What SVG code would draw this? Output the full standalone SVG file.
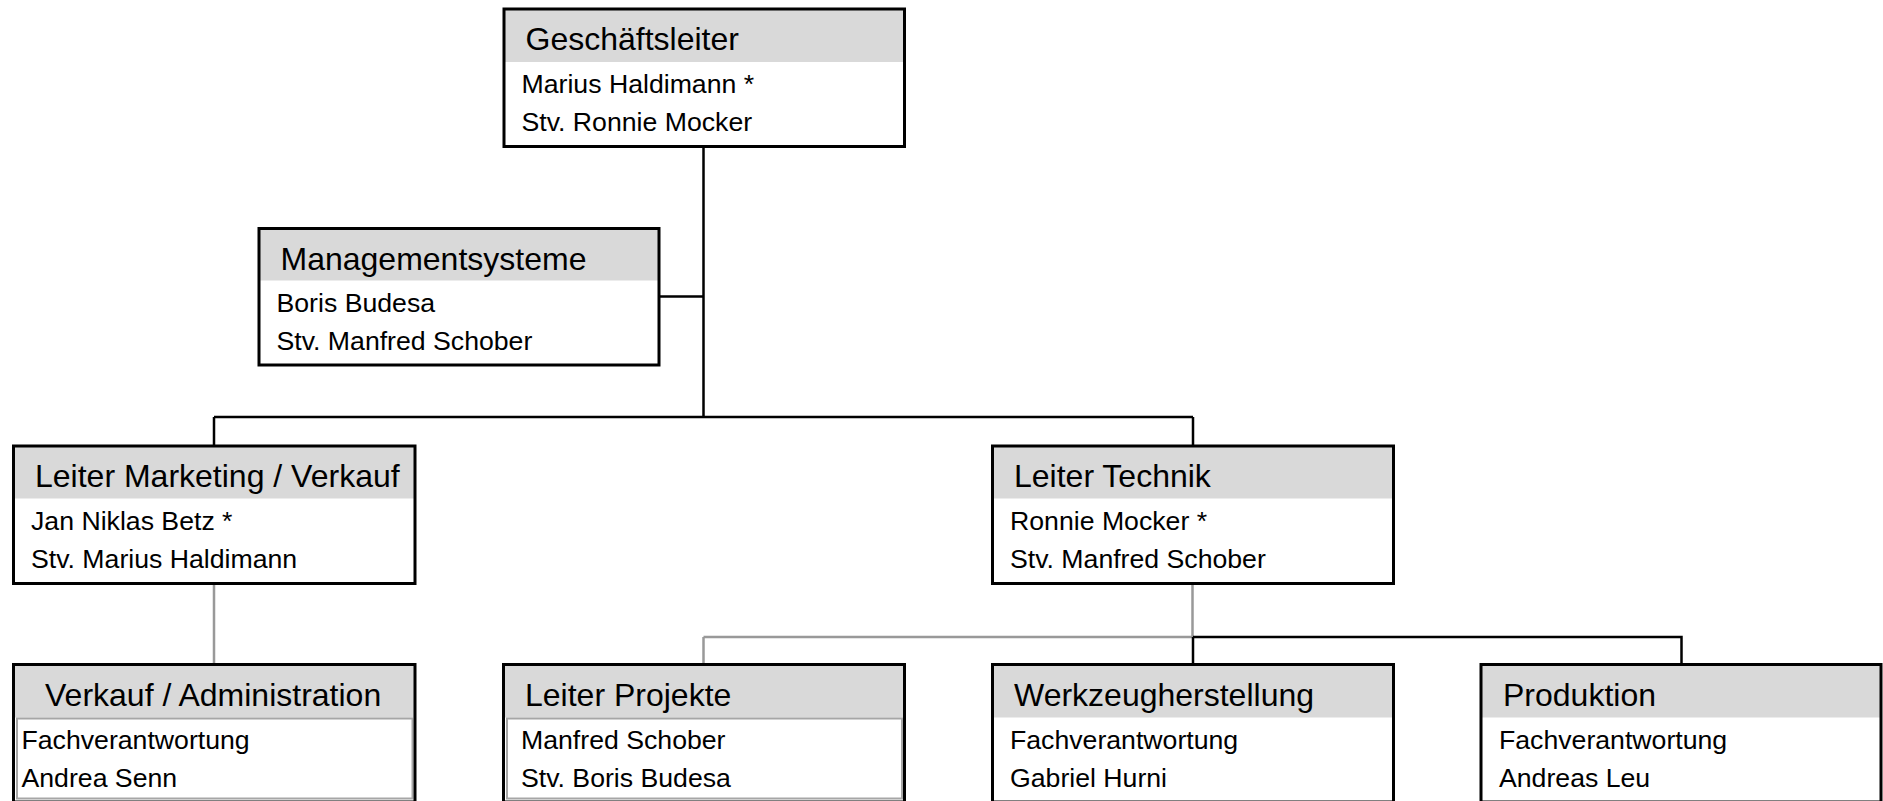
<svg xmlns="http://www.w3.org/2000/svg" width="1883" height="801" viewBox="0 0 1883 801">
<style>
.bg{fill:#ffffff}
.hd{fill:#d9d9d9}
.bd{fill:none;stroke:#000000;stroke-width:3}
.inner{fill:none;stroke:#a6a6a6;stroke-width:2}
.t1{font-family:"Liberation Sans",Arial,sans-serif;font-size:32px;fill:#000000}
.t2{font-family:"Liberation Sans",Arial,sans-serif;font-size:26.67px;fill:#000000}
.cb{fill:none;stroke:#000000;stroke-width:2.5}
.cg{fill:none;stroke:#999999;stroke-width:2.5}
</style>
<rect x="0" y="0" width="1883" height="801" fill="#ffffff"/>
<g id="connectors">
  <path class="cb" d="M703.5 146 V417 M659 296.5 H703.5 M214 417 H1193 M214 417 V446 M1193 417 V446"/>
  <path class="cg" d="M214 583.5 V664.5 M1192.5 583.5 V637 M703.5 637 H1192.5 M703.5 637 V664.5"/>
  <path class="cb" d="M1193 637 V664.5 M1193 637 H1681.5 V664.5"/>
</g>
<g id="n-geschaeftsleiter">
  <rect class="bg" x="504" y="9" width="400.5" height="137.5"/>
  <rect class="hd" x="504" y="9" width="400.5" height="53"/>
  <rect class="bd" x="504" y="9" width="400.5" height="137.5"/>
  <text class="t1" x="525.5" y="50">Geschäftsleiter</text>
  <text class="t2" x="521.5" y="93">Marius Haldimann *</text>
  <text class="t2" x="521.5" y="131">Stv. Ronnie Mocker</text>
</g>
<g id="n-management">
  <rect class="bg" x="259" y="228.5" width="400" height="136.5"/>
  <rect class="hd" x="259" y="228.5" width="400" height="52"/>
  <rect class="bd" x="259" y="228.5" width="400" height="136.5"/>
  <text class="t1" x="280.5" y="269.5">Managementsysteme</text>
  <text class="t2" x="276.5" y="311.5">Boris Budesa</text>
  <text class="t2" x="276.5" y="349.5">Stv. Manfred Schober</text>
</g>
<g id="n-marketing">
  <rect class="bg" x="13.5" y="446" width="401.5" height="137.5"/>
  <rect class="hd" x="13.5" y="446" width="401.5" height="52.5"/>
  <rect class="bd" x="13.5" y="446" width="401.5" height="137.5"/>
  <text class="t1" x="35" y="487">Leiter Marketing / Verkauf</text>
  <text class="t2" x="31" y="530">Jan Niklas Betz *</text>
  <text class="t2" x="31" y="568">Stv. Marius Haldimann</text>
</g>
<g id="n-technik">
  <rect class="bg" x="992.5" y="446" width="401" height="137.5"/>
  <rect class="hd" x="992.5" y="446" width="401" height="52.5"/>
  <rect class="bd" x="992.5" y="446" width="401" height="137.5"/>
  <text class="t1" x="1014" y="487">Leiter Technik</text>
  <text class="t2" x="1010" y="530">Ronnie Mocker *</text>
  <text class="t2" x="1010" y="568">Stv. Manfred Schober</text>
</g>
<g id="n-verkauf">
  <rect class="bg" x="13.5" y="664.5" width="401.5" height="137.5"/>
  <rect class="hd" x="13.5" y="664.5" width="401.5" height="53"/>
  <rect class="inner" x="17" y="718.5" width="395.5" height="80"/>
  <rect class="bd" x="13.5" y="664.5" width="401.5" height="137.5"/>
  <text class="t1" x="45" y="705.5">Verkauf / Administration</text>
  <text class="t2" x="21.5" y="749">Fachverantwortung</text>
  <text class="t2" x="21.5" y="787">Andrea Senn</text>
</g>
<g id="n-projekte">
  <rect class="bg" x="503.5" y="664.5" width="401" height="137.5"/>
  <rect class="hd" x="503.5" y="664.5" width="401" height="53"/>
  <rect class="inner" x="507" y="718.5" width="395" height="80"/>
  <rect class="bd" x="503.5" y="664.5" width="401" height="137.5"/>
  <text class="t1" x="525" y="705.5">Leiter Projekte</text>
  <text class="t2" x="521" y="749">Manfred Schober</text>
  <text class="t2" x="521" y="787">Stv. Boris Budesa</text>
</g>
<g id="n-werkzeug">
  <rect class="bg" x="992.5" y="664.5" width="401" height="137.5"/>
  <rect class="hd" x="992.5" y="664.5" width="401" height="53"/>
  <rect class="bd" x="992.5" y="664.5" width="401" height="137.5"/>
  <text class="t1" x="1014" y="705.5">Werkzeugherstellung</text>
  <text class="t2" x="1010" y="749">Fachverantwortung</text>
  <text class="t2" x="1010" y="787">Gabriel Hurni</text>
</g>
<g id="n-produktion">
  <rect class="bg" x="1481" y="664.5" width="400" height="137.5"/>
  <rect class="hd" x="1481" y="664.5" width="400" height="53"/>
  <rect class="bd" x="1481" y="664.5" width="400" height="137.5"/>
  <text class="t1" x="1503" y="705.5">Produktion</text>
  <text class="t2" x="1499" y="749">Fachverantwortung</text>
  <text class="t2" x="1499" y="787">Andreas Leu</text>
</g>
</svg>
